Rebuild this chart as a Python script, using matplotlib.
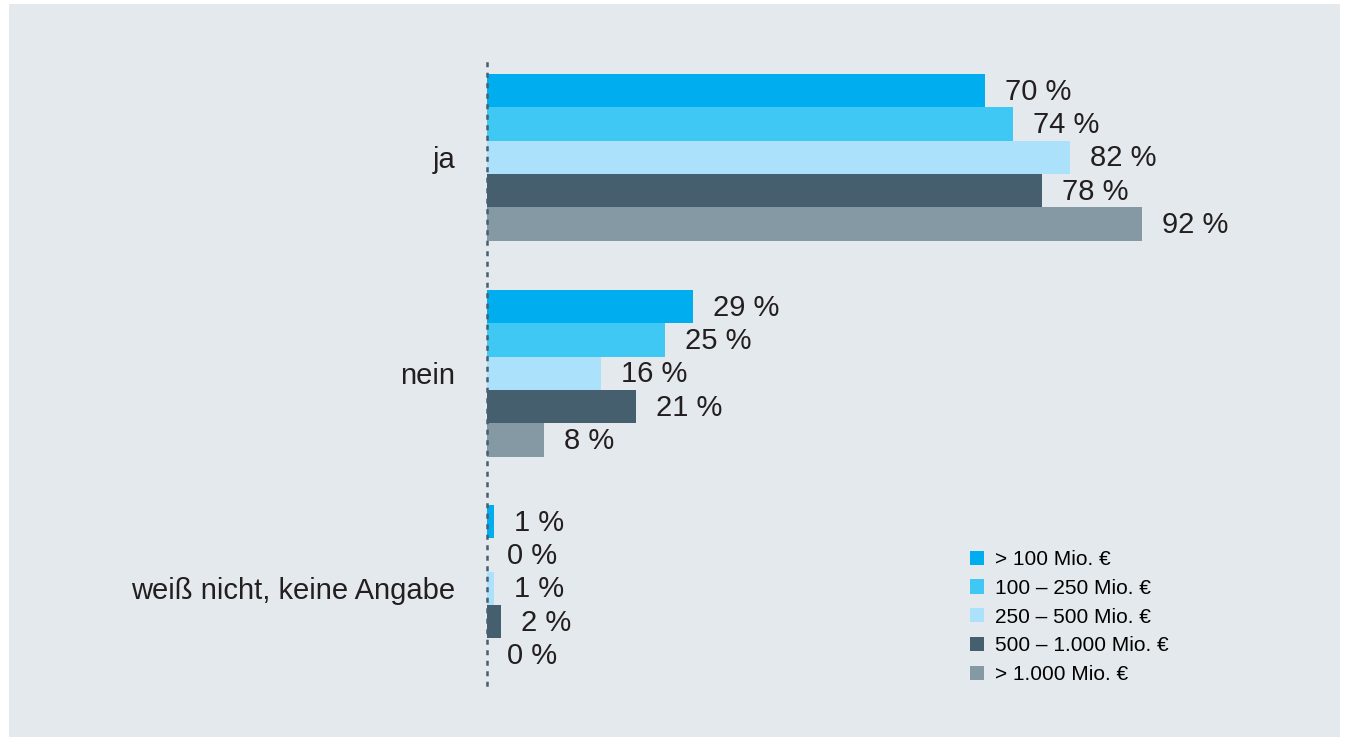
import numpy as np
import matplotlib.pyplot as plt
from matplotlib.patches import Rectangle, Patch

plt.rcParams['font.family'] = ['Liberation Sans', 'DejaVu Sans']

categories = ['ja', 'nein', 'weiß nicht, keine Angabe']
series = ['> 100 Mio. €', '100 – 250 Mio. €', '250 – 500 Mio. €',
          '500 – 1.000 Mio. €', '> 1.000 Mio. €']
values = [
    [70, 29, 1],
    [74, 25, 0],
    [82, 16, 1],
    [78, 21, 2],
    [92, 8, 0],
]
colors = ['#00AEEF', '#40C8F4', '#ABE1FA', '#455F6E', '#8599A4']
bg = '#E4E9ED'

W, H = 1346, 740
fig = plt.figure(figsize=(W / 100, H / 100), dpi=100)
fig.patch.set_facecolor('white')
fig.add_artist(Rectangle((9 / W, 1 - 737 / H), (1340 - 9) / W, (737 - 4) / H,
                         transform=fig.transFigure, facecolor=bg,
                         edgecolor='none', zorder=0))

# axes in pixel-ish units: y grows downward
top, bottom = 60, 685
left, right = 487, 1340
ax = fig.add_axes([left / W, 1 - bottom / H, (right - left) / W, (bottom - top) / H])
ax.set_facecolor('none')
ax.set_ylim(bottom, top)
px_per_pct = (985 - 487) / 70
ax.set_xlim(0, (right - left) / px_per_pct)

bar_h = 33.3
group_start = [74, 290, 505]
for i, (name, vals, c) in enumerate(zip(series, values, colors)):
    ys = [g + i * bar_h + bar_h / 2 for g in group_start]
    ax.barh(ys, vals, height=bar_h, color=c, label=name, zorder=2)
    for y, v in zip(ys, vals):
        ax.annotate(f'{v} %', (v, y), xytext=(20, -1), textcoords='offset pixels',
                    va='center', ha='left', fontsize=21, color='#231F20')

ax.set_yticks([g + 2.5 * bar_h for g in group_start])
ax.set_yticklabels(categories, fontsize=21, color='#231F20')
ax.tick_params(axis='y', length=0, pad=23)
ax.set_xticks([])
for s in ['top', 'right', 'bottom']:
    ax.spines[s].set_visible(False)
ax.spines['left'].set_linestyle((0, (1, 3.2)))
ax.spines['left'].set_color('#455F6E')
ax.spines['left'].set_linewidth(1.8)

handles = [Patch(facecolor=c, edgecolor='none') for c in colors]
fig.legend(handles, series, loc='upper left', bbox_to_anchor=(970 / W, 1 - 550 / H),
           frameon=False, fontsize=15, handlelength=0.66, handleheight=0.66,
           handletextpad=0.55, labelspacing=0.47, borderaxespad=0, borderpad=0)

fig.savefig('out.png', dpi=100)
